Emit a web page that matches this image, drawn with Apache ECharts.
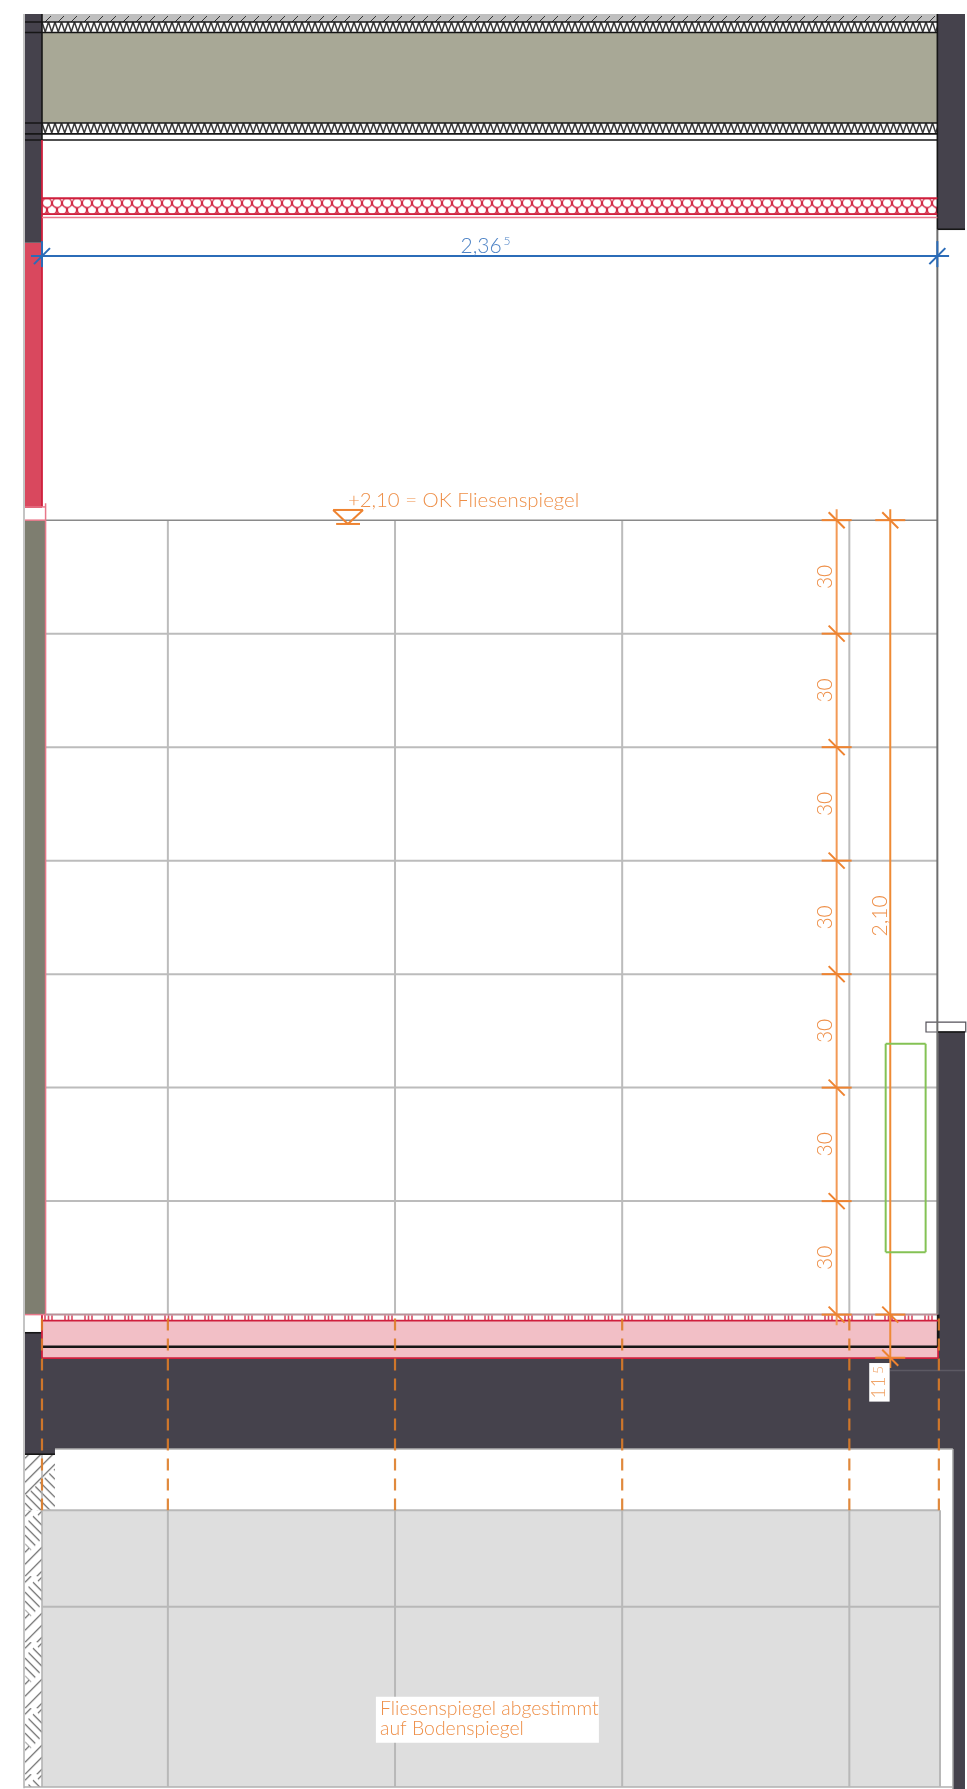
<!DOCTYPE html>
<html><head><meta charset="utf-8">
<style>html,body{margin:0;padding:0;background:#fff}#c{width:967px;height:1789px}</style>
<script src="https://cdn.jsdelivr.net/npm/echarts@6/dist/echarts.min.js"></script>
</head><body><div id="c"></div>
<script>
// All values in centimetres: x from the left wall face, y from the top of the floor build-up.
const tileRows = [0, 30, 60, 90, 120, 150, 180];
const tileTop = 210;
const tileJoints = [33.25, 93.25, 153.25, 213.25];
const roomWidth = 236.5;
const floorEdge = 237.2;
const chainX = 209.9;
const chainTicks = [210, 180, 150, 120, 90, 60, 30, 0];
const chainLabels = [195, 165, 135, 105, 75, 45, 15];
const heightX = 224.06;
const heightTicks = [210, 0, -11.4];
const dashX = [0, 33.25, 93.25, 153.25, 213.25, 236.9];
const floorGridY = [-51.7, -77.2];

const darkRects = [[-4.49,343.8,0,283.3],[236.5,343.8,243.8,286.9],[-4.49,-4.8,0,-36.9],[0,-11.4,243.8,-35.5],[236.7,74.7,243.8,-35.5],[240.6,-35.5,243.8,-125.4],[0,-35.5,3.43,-36.9]];
const oliveRects = [[0,338.9,236.5,315]];
const sideWallRects = [[-4.49,210,0.95,0]];
const redRects = [[-4.49,283.3,0,213.5]];
const pinkRects = [[0,-1.6,236.7,-11.4]];
const greyFloorRects = [[0,-51.7,237.2,-124.9]];
const whiteBoxRects = [[218.5,-12.8,223.9,-23],[88.2,-101,147.1,-113.2]];
const roofHatchRects = [[0,343.8,236.5,341.7]];
const zigRects = [[0,341.7,236.5,338.9],[0,315,236.5,312.1]];
const foamRects = [[0,295.1,236.5,290.9]];
const stripRects = [[0,0,236.5,-1.6]];
const hatchRects = [[-4.49,-51.7,0,-124.9]];
const hatchTopRects = [[-4.49,-36.9,3.43,-51.7]];

const blackLines = [[-4.49,341.7,236.5,341.7],[-4.49,338.9,236.5,338.9],[-4.49,315,236.5,315],[-4.49,312.1,236.5,312.1],[-4.49,310.5,236.5,310.5],[0,343.8,0,310.5],[236.5,343.8,236.5,286.9],[236.5,286.9,243.8,286.9],[-4.49,-4.8,0,-4.8],[-4.49,-36.9,3.43,-36.9],[236.7,74.7,243.8,74.7]];
const heavyLines = [[0,-8.5,236.7,-8.5],[236.7,0,236.7,-8.5]];
const redLines = [[0,310.5,0,213.5],[-4.49,213.5,0,213.5],[0,295.1,236.5,295.1],[0,290.9,236.5,290.9],[0,-1.6,236.7,-1.6],[0,-11.5,236.7,-11.5],[0,0,0,-11.5],[236.7,-8.5,236.7,-11.5]];
const paleRedLines = [[0,290,236.5,290],[0.95,214.5,0.95,0],[-4.49,210,0.95,210],[-4.49,0,0.95,0],[-4.49,213.5,0.95,213.5]];
const stripTopLine = [[0.95,0,236.7,0]];
const wallGreyLines = [[236.5,286.9,236.5,74.7],[236.5,74.7,236.5,0]];
const roomEdgeLines = [[3.43,-35.5,240.6,-35.5],[240.6,-35.5,240.6,-125.4],[-4.75,343.8,-4.75,-125.2],[-4.75,-124.9,240.6,-124.9],[0,-36.9,0,-124.9]];
const windowBox = [[233.5,77.3,244,74.7]];
const outletBox = [[222.85,71.6,233.4,16.5]];
const dimSubLine = [[224,-14.8,243.8,-14.8]];
const levelMark = [[76.9,212.7,84.8,212.7],[84.8,212.7,80.8,209],[80.8,209,76.9,212.7],[77.7,209,84,209]];
const blueDim = [[-2.9,279.8,239.6,279.8]];
const blueTicks = [0, 236.5];
const blueTickY = 279.8;

const orange = '#ee8a35', textOrange = '#ee8f48', blue = '#2b6cb8';
const FONT = 'Lato, "Open Sans", sans-serif';
const labels = [
  {t:'2,36', x:116, y:282.3, s:21, c:'#4f84c6'},
  {t:'5', x:122.8, y:283.8, s:12, c:'#4f84c6'},
  {t:'+2,10 = OK Fliesenspiegel', x:80.8, y:215.3, s:20.4, c:textOrange, a:'left'},
  {t:'2,10', x:221.4, y:105.4, s:21, c:textOrange, r:90},
  {t:'11', x:221, y:-19.3, s:19, c:'#f0a468', r:90},
  {t:'5', x:221, y:-14.6, s:14, c:'#f0a468', r:90},
  {t:'Fliesenspiegel abgestimmt', x:89.3, y:-104.3, s:19.4, c:textOrange, a:'left'},
  {t:'auf Bodenspiegel', x:89.3, y:-109.4, s:19.4, c:textOrange, a:'left'}
];
chainLabels.forEach(v => labels.push({t:'30', x:207, y:v, s:21, c:textOrange, r:90}));

function mk(w,h,fn){const c=document.createElement('canvas');c.width=w;c.height=h;fn(c.getContext('2d'));return {image:c,repeat:'repeat'};}
const roofPat = mk(13,8,g=>{g.fillStyle='#bfbfbf';g.fillRect(0,0,13,8);g.strokeStyle='#333';g.lineWidth=1;g.beginPath();g.moveTo(3,8);g.lineTo(9,2);g.stroke();});
const zigPat = mk(13,10,g=>{g.fillStyle='#fff';g.fillRect(0,0,13,10);g.strokeStyle='#3a3a3a';g.lineWidth=1.5;g.beginPath();g.moveTo(0,0);g.lineTo(3.25,10);g.lineTo(6.5,0);g.lineTo(9.75,10);g.lineTo(13,0);g.stroke();});
const foamPat = mk(10,16,g=>{g.fillStyle='#fff';g.fillRect(0,0,10,16);g.strokeStyle='#d32a45';g.lineWidth=1.3;
  g.beginPath();g.arc(0,11.5,4.6,0,Math.PI*2);g.stroke();
  g.beginPath();g.arc(10,11.5,4.6,0,Math.PI*2);g.stroke();
  g.fillStyle='#fff';g.beginPath();g.arc(5,4.8,4.6,0,Math.PI*2);g.fill();g.stroke();
  g.beginPath();g.moveTo(5,9.4);g.lineTo(5,16);g.stroke();});
const stripPat = mk(20,6,g=>{g.fillStyle='#fff';g.fillRect(0,0,20,6);g.strokeStyle='#dc4a64';g.lineWidth=1.6;g.beginPath();[3,6.5,10].forEach(x=>{g.moveTo(x,0);g.lineTo(x,6);});g.stroke();});
function diag(g,w,h,step,dir){g.beginPath();for(let i=-h-w;i<h+w;i+=step){if(dir>0){g.moveTo(0,i+w);g.lineTo(w,i);}else{g.moveTo(0,i);g.lineTo(w,i+w);}}g.stroke();}
const hatchPat = mk(17,66,g=>{g.fillStyle='#fff';g.fillRect(0,0,17,66);g.strokeStyle='#666';g.lineWidth=1.2;diag(g,17,66,12,1);
  g.save();g.beginPath();g.moveTo(0,14);g.lineTo(11,3);g.lineTo(17,9);g.lineTo(17,28);g.lineTo(6,40);g.lineTo(0,34);g.closePath();g.fillStyle='#fff';g.fill();g.clip();diag(g,17,66,9,-1);g.restore();});
const hatchTopPat = mk(30,56,g=>{g.fillStyle='#fff';g.fillRect(0,0,30,56);g.strokeStyle='#666';g.lineWidth=1.2;diag(g,30,56,12,1);
  g.save();g.beginPath();g.moveTo(0,42);g.lineTo(30,14);g.lineTo(30,56);g.lineTo(0,56);g.closePath();g.fillStyle='#fff';g.fill();g.clip();diag(g,30,56,9,-1);g.restore();});

function rects(data,fill,opt){opt=opt||{};return {type:'custom',coordinateSystem:'cartesian2d',silent:true,clip:false,animation:false,data:data,z:opt.z||2,
  renderItem:(p,api)=>{const a=api.coord([api.value(0),api.value(1)]),b=api.coord([api.value(2),api.value(3)]);
    return {type:'rect',x:a[0],y:a[1],shape:{x:0,y:0,width:b[0]-a[0],height:b[1]-a[1]},style:{fill:fill,stroke:opt.stroke||null,lineWidth:opt.lw||1}};}};}
function segs(data,stroke,lw,opt){opt=opt||{};return {type:'custom',coordinateSystem:'cartesian2d',silent:true,clip:false,animation:false,data:data,z:opt.z||3,
  renderItem:(p,api)=>{const a=api.coord([api.value(0),api.value(1)]),b=api.coord([api.value(2),api.value(3)]);
    return {type:'line',shape:{x1:a[0],y1:a[1],x2:b[0],y2:b[1]},style:{stroke:stroke,lineWidth:lw,lineDash:opt.dash||null,opacity:opt.op==null?1:opt.op}};}};}
function ticks(data,stroke,lw,dir,half,z){return {type:'custom',coordinateSystem:'cartesian2d',silent:true,clip:false,animation:false,data:data,z:z||5,
  renderItem:(p,api)=>{const c=api.coord([api.value(0),api.value(1)]);
    const kids=[{type:'line',shape:{x1:c[0]-half,y1:c[1],x2:c[0]+half,y2:c[1]},style:{stroke:stroke,lineWidth:lw}},
      {type:'line',shape:{x1:c[0]-8,y1:c[1]-8*dir,x2:c[0]+8,y2:c[1]+8*dir},style:{stroke:stroke,lineWidth:lw}}];
    if(dir<0) kids.push({type:'line',shape:{x1:c[0],y1:c[1]-15,x2:c[0],y2:c[1]+11},style:{stroke:stroke,lineWidth:lw}});
    return {type:'group',children:kids};}};}

const hSegs = tileRows.map(y=>[0.95,y,roomWidth,y]);
const vSegs = tileJoints.map(x=>[x,tileTop,x,0]);
const fJoint = tileJoints.concat([floorEdge]).map(x=>[x,floorGridY[0],x,-124.9]);
const fRows = floorGridY.map(y=>[0,y,floorEdge,y]);
const chainSeg = [[chainX,212.9,chainX,-2.8]];
const heightSeg = [[heightX,212.9,heightX,-14.1]];
const dashes = dashX.map(x=>[x,-1,x,-51.7]);

const series = [
  rects(oliveRects,'#a8a896'), rects(sideWallRects,'#7e7e70'), rects(redRects,'#d9485e'),
  rects(darkRects,'#45424c'), rects(pinkRects,'#f2bfc6'), rects(greyFloorRects,'#dedede'),
  rects(windowBox,'#fff',{stroke:'#55525a',lw:1.2}),
  rects(roofHatchRects,roofPat), rects(zigRects,zigPat), rects(foamRects,foamPat), rects(stripRects,stripPat),
  rects(hatchRects,hatchPat), rects(hatchTopRects,hatchTopPat),
  segs(roomEdgeLines,'#b0b0b0',1.5), segs(dimSubLine,'#5c5963',1.5),
  segs(hSegs,'#bcbcbc',2), segs(vSegs,'#bcbcbc',2), segs([[0.95,tileTop,roomWidth,tileTop]],'#8a8a8a',1.5),
  segs(fJoint,'#b8b8b8',2), segs(fRows,'#b8b8b8',2),
  segs(wallGreyLines,'#6e6e6e',2),
  segs(stripTopLine,'#bf8e98',1.5),
  segs(blackLines,'#161616',1.6), segs(heavyLines,'#161616',2.6), segs(redLines,'#cf1f3c',1.8), segs(paleRedLines,'#e8788a',1.5),
  segs(dashes,'#dd7c28',2.2,{dash:[12,8],z:6,op:0.9}),
  segs(chainSeg,'#f39a55',2,{z:5}), segs(heightSeg,orange,2,{z:5}),
  ticks(chainTicks.map(y=>[chainX,y]),'#ee8330',2,1,15),
  ticks(heightTicks.map(y=>[heightX,y]),'#ee8330',2,1,15),
  segs(outletBox.flatMap(b=>[[b[0],b[1],b[2],b[1]],[b[2],b[1],b[2],b[3]],[b[2],b[3],b[0],b[3]],[b[0],b[3],b[0],b[1]]]),'#84c255',2,{z:6}),
  segs(levelMark,'#ee8330',2,{z:7}),
  segs(blueDim,blue,2,{z:8}),
  ticks(blueTicks.map(x=>[x,blueTickY]),blue,2,-1,0,8),
  rects(whiteBoxRects,'#fff',{z:9}),
  {type:'custom',coordinateSystem:'cartesian2d',silent:true,clip:false,animation:false,z:10,
   data:labels.map(l=>[l.x,l.y]),
   renderItem:(p,api)=>{const l=labels[p.dataIndex],c=api.coord([api.value(0),api.value(1)]);
     return {type:'text',x:c[0],y:c[1],rotation:(l.r||0)*Math.PI/180,
       style:{text:l.t,fill:l.c,font:'300 '+l.s+'px '+FONT,align:l.a||'center',verticalAlign:'middle'}};}}
];

const chart = echarts.init(document.getElementById('c'),null,{renderer:'canvas',width:967,height:1789});
chart.setOption({animation:false,backgroundColor:'#fff',
  grid:{left:0,right:0,top:0,bottom:0},
  xAxis:{type:'value',min:-11.09,max:244.33,show:false},
  yAxis:{type:'value',min:-125.4,max:347.5,show:false},
  series:series});
</script></body></html>
